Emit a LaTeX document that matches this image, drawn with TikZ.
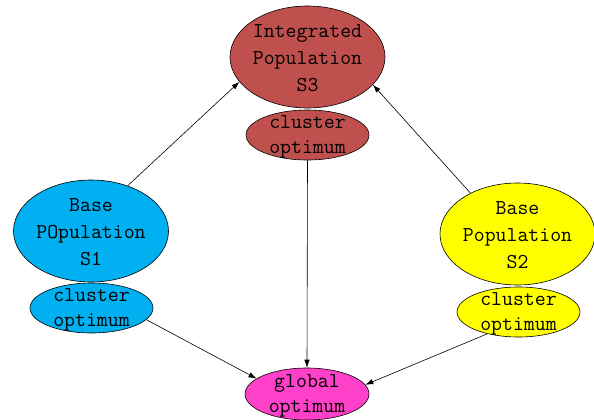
\documentclass[tikz,border=0pt]{standalone}
\usepackage{fontspec}
\usetikzlibrary{shapes.geometric,arrows.meta}
\definecolor{sred}{HTML}{C0504D}
\definecolor{scyan}{HTML}{00B0F0}
\definecolor{syellow}{HTML}{FFFF00}
\definecolor{smag}{HTML}{FF40C8}
\tikzset{
  bigell/.style={ellipse,draw=black,line width=0.6pt,inner sep=0pt,minimum width=155pt,minimum height=102pt},
  smallell/.style={ellipse,draw=black,line width=0.6pt,inner sep=0pt,minimum width=123pt,minimum height=50pt},
  bigtxt/.style={align=center,inner sep=0pt,yshift=-1pt,font=\ttfamily\fontsize{21.2}{27}\selectfont},
  smalltxt/.style={align=center,inner sep=0pt,yshift=-2pt,font=\ttfamily\fontsize{21.2}{25}\selectfont},
  conn/.style={line width=0.6pt,-{Latex[length=8pt,width=5.5pt]}}
}
\begin{document}
\begin{tikzpicture}[x=1pt,y=1pt]
\useasboundingbox (0,0) rectangle (594,-420);
\node[bigell,fill=sred,label={[bigtxt]center:Integrated\\Population\\S3}] (s3) at (307.5,-57) {};
\node[smallell,fill=sred,label={[smalltxt]center:cluster\\optimum}] (c3) at (307.5,-135) {};
\node[bigell,fill=scyan,label={[bigtxt]center:Base\\POpulation\\S1}] (s1) at (91,-231) {};
\node[smallell,fill=scyan,label={[smalltxt]center:cluster\\optimum}] (c1) at (91.5,-308) {};
\node[bigell,fill=syellow,label={[bigtxt]center:Base\\Population\\S2}] (s2) at (517.5,-234) {};
\node[smallell,fill=syellow,label={[smalltxt]center:cluster\\optimum}] (c2) at (518.5,-312) {};
\node[smallell,fill=smag,minimum width=124pt,minimum height=52pt,label={[smalltxt]center:global\\optimum}] (g) at (307,-394) {};
\draw[conn] (s1.51) -- (s3.200);
\draw[conn] (s2.139) -- (s3.337);
\draw[conn] (c3.south) -- (g.north);
\draw[conn] (c1.-12) -- (g.163);
\draw[conn] (c2.215) -- (g.9);
\end{tikzpicture}
\end{document}
